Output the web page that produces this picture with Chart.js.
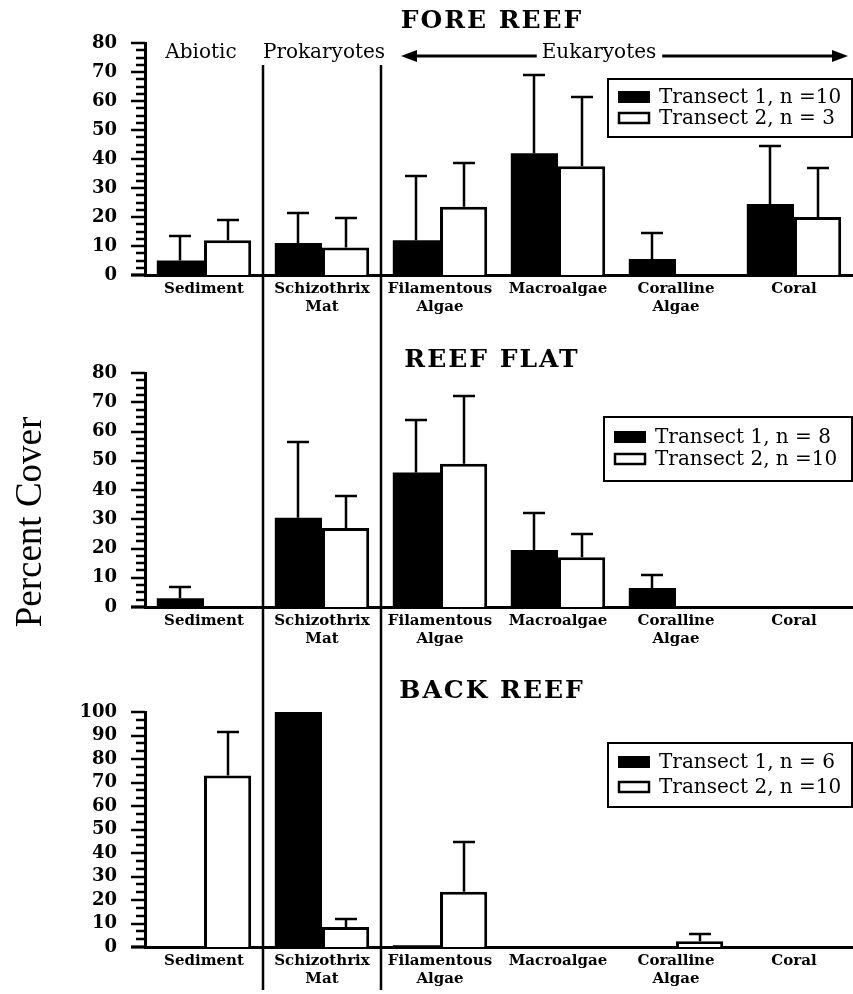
<!DOCTYPE html>
<html>
<head>
<meta charset="utf-8">
<script src="https://cdn.jsdelivr.net/npm/chart.js@4.4.1/dist/chart.umd.min.js"></script>
<style>
  body { margin: 0; background: #fff; width: 853px; height: 994px; overflow: hidden; position: relative; }
  canvas { position: absolute; left: 0; }
</style>
</head>
<body>
<canvas id="fore" width="853" height="330" style="top:0"></canvas>
<canvas id="flat" width="853" height="330" style="top:330px"></canvas>
<canvas id="back" width="853" height="334" style="top:660px"></canvas>
<script>
// categories along x
var categories = ['Sediment', ['Schizothrix', 'Mat'], ['Filamentous', 'Algae'], 'Macroalgae', ['Coralline', 'Algae'], 'Coral'];

// fore reef: means and error (sd) per transect
var foreT1 = [5, 11, 12, 42, 5.5, 24.5];
var foreT1Sd = [8.5, 10.5, 22, 27, 9, 20];
var foreT2 = [12, 9.5, 23.5, 37.5, 0, 20];
var foreT2Sd = [7, 10, 15, 24, 0, 17];

// reef flat
var flatT1 = [3, 30.5, 46, 19.5, 6.5, 0];
var flatT1Sd = [4, 26, 18, 12.5, 4.5, 0];
var flatT2 = [0, 27, 49, 17, 0, 0];
var flatT2Sd = [0, 11, 23, 8, 0, 0];

// back reef
var backT1 = [0, 100, 0.7, 0, 0, 0];
var backT1Sd = [0, 0, 0, 0, 0, 0];
var backT2 = [73, 8.5, 23.5, 0, 2.5, 0];
var backT2Sd = [18.5, 3.5, 21, 0, 3, 0];

var serif = 'DejaVu Serif';

var decor = {
  id: 'decor',
  afterDatasetsDraw: function(chart) {
    var ctx = chart.ctx, ys = chart.scales.y;
    ctx.save();
    ctx.strokeStyle = '#000';
    ctx.lineWidth = 2.5;
    chart.data.datasets.forEach(function(ds, i) {
      var meta = chart.getDatasetMeta(i);
      meta.data.forEach(function(bar, j) {
        var sd = ds.sd[j];
        if (!sd) return;
        var top = Math.round(ys.getPixelForValue(ds.data[j] + sd));
        var x = Math.round(bar.x);
        ctx.beginPath();
        ctx.moveTo(x, bar.y);
        ctx.lineTo(x, top);
        ctx.moveTo(x - 11, top);
        ctx.lineTo(x + 11, top);
        ctx.stroke();
      });
    });
    ctx.restore();
  },
  afterDraw: function(chart, args, o) {
    var ctx = chart.ctx, xs = chart.scales.x, ys = chart.scales.y, area = chart.chartArea;
    ctx.save();
    ctx.strokeStyle = '#000';
    ctx.fillStyle = '#000';

    // y ticks: long at every 10, short in between
    ctx.lineWidth = 2.5;
    var n = o.minor, steps = (ys.max - ys.min) / 10 * n;
    for (var i = 0; i <= steps; i++) {
      var y = Math.round(ys.getPixelForValue(ys.min + i * 10 / n));
      var len = i % n === 0 ? 14 : 9;
      ctx.beginPath();
      ctx.moveTo(area.left - len, y);
      ctx.lineTo(area.left, y);
      ctx.stroke();
    }

    // x axis runs a little past the y axis
    ctx.lineWidth = 3;
    ctx.beginPath();
    ctx.moveTo(area.left - 14, area.bottom);
    ctx.lineTo(area.left, area.bottom);
    ctx.stroke();

    // separators between abiotic / prokaryotes / eukaryotes
    var sep1 = Math.round((xs.getPixelForValue(0) + xs.getPixelForValue(1)) / 2);
    var sep2 = Math.round((xs.getPixelForValue(1) + xs.getPixelForValue(2)) / 2);
    ctx.lineWidth = 2.5;
    [sep1, sep2].forEach(function(sx) {
      ctx.beginPath();
      ctx.moveTo(sx, o.sepTop);
      ctx.lineTo(sx, o.sepBottom);
      ctx.stroke();
    });

    // panel title
    ctx.font = 'bold 25px ' + serif;
    ctx.letterSpacing = '2px';
    ctx.textAlign = 'center';
    ctx.textBaseline = 'middle';
    ctx.fillText(o.title, 492, o.titleY);
    ctx.letterSpacing = '0px';

    // group headers (top panel only)
    if (o.headers) {
      ctx.font = '20px ' + serif;
      var hy = 53;
      ctx.fillText('Abiotic', (area.left + sep1) / 2 - 3, hy);
      ctx.fillText('Prokaryotes', (sep1 + sep2) / 2 + 2, hy);
      var tx = 599, tw = ctx.measureText('Eukaryotes').width;
      ctx.fillText('Eukaryotes', tx, hy);
      var ly = hy + 3, l0 = sep2 + 20, l1 = 848;
      ctx.lineWidth = 3;
      ctx.beginPath();
      ctx.moveTo(l0 + 12, ly); ctx.lineTo(tx - tw / 2 - 5, ly);
      ctx.moveTo(tx + tw / 2 + 6, ly); ctx.lineTo(l1 - 12, ly);
      ctx.stroke();
      ctx.beginPath();
      ctx.moveTo(l0, ly); ctx.lineTo(l0 + 16, ly - 6); ctx.lineTo(l0 + 16, ly + 6); ctx.closePath();
      ctx.moveTo(l1, ly); ctx.lineTo(l1 - 16, ly - 6); ctx.lineTo(l1 - 16, ly + 6); ctx.closePath();
      ctx.fill();
    }

    // y axis title (middle panel only)
    if (o.yTitle) {
      ctx.save();
      ctx.translate(31, o.yTitle.y);
      ctx.rotate(-Math.PI / 2);
      ctx.font = '37px "Liberation Serif"';
      ctx.fillText(o.yTitle.text, 0, 0);
      ctx.restore();
    }

    // legend box
    var lb = o.legend;
    ctx.lineWidth = 2;
    ctx.strokeRect(lb.x, lb.y, lb.w, lb.h);
    ctx.font = '20px ' + serif;
    ctx.textAlign = 'left';
    chart.data.datasets.forEach(function(ds, i) {
      var ry = lb.rows[i];
      if (ds.backgroundColor === '#000') {
        ctx.fillRect(lb.x + 10, ry - 6, 32, 12);
      } else {
        ctx.lineWidth = 2.5;
        ctx.strokeRect(lb.x + 11, ry - 5, 30, 10);
      }
      ctx.fillText(ds.label, lb.x + 51, ry + 1);
    });
    ctx.restore();
  }
};

function makePanel(id, t1, t1Sd, t2, t2Sd, labels, yMax, minor, pad, deco) {
  var canvas = document.getElementById(id);
  return new Chart(canvas, {
    type: 'bar',
    data: {
      labels: categories,
      datasets: [
        { label: labels[0], data: t1, sd: t1Sd, backgroundColor: '#000', borderColor: '#000', borderWidth: 0 },
        { label: labels[1], data: t2, sd: t2Sd, backgroundColor: '#fff', borderColor: '#000', borderWidth: 3 }
      ]
    },
    options: {
      responsive: false,
      animation: false,
      events: [],
      layout: { padding: { top: pad.top, bottom: pad.bottom, left: 0, right: 0 } },
      datasets: { bar: { categoryPercentage: 0.8, barPercentage: 1.0 } },
      plugins: {
        legend: { display: false },
        tooltip: { enabled: false },
        decor: deco
      },
      scales: {
        x: {
          grid: { display: false, drawTicks: false },
          border: { display: true, color: '#000', width: 3 },
          ticks: {
            autoSkip: false, maxRotation: 0, padding: 5, color: '#000',
            font: { family: serif, size: 15, weight: 'bold', lineHeight: 1.2 }
          },
          afterFit: function(s) { s.height = 44; }
        },
        y: {
          min: 0, max: yMax,
          grid: { display: false, drawTicks: false },
          border: { display: true, color: '#000', width: 3 },
          ticks: {
            stepSize: 10, autoSkip: false, padding: 28, color: '#000',
            font: { family: serif, size: 18, weight: 'bold' }
          },
          afterFit: function(s) { s.width = 145; }
        }
      }
    },
    plugins: [decor]
  });
}

makePanel('fore', foreT1, foreT1Sd, foreT2, foreT2Sd,
  ['Transect 1, n =10', 'Transect 2, n = 3'], 80, 4,
  { top: 43, bottom: 11 },
  { title: 'FORE REEF', titleY: 21, headers: true, sepTop: 65, sepBottom: 330, minor: 4,
    legend: { x: 608, y: 79, w: 244, h: 58, rows: [97, 118] } });

makePanel('flat', flatT1, flatT1Sd, flatT2, flatT2Sd,
  ['Transect 1, n = 8', 'Transect 2, n =10'], 80, 4,
  { top: 43, bottom: 9 },
  { title: 'REEF FLAT', titleY: 30, sepTop: 0, sepBottom: 330, minor: 4,
    yTitle: { text: 'Percent Cover', y: 192 },
    legend: { x: 604, y: 87, w: 248, h: 64, rows: [107, 129] } });

makePanel('back', backT1, backT1Sd, backT2, backT2Sd,
  ['Transect 1, n = 6', 'Transect 2, n =10'], 100, 3,
  { top: 52, bottom: 3 },
  { title: 'BACK REEF', titleY: 31, sepTop: 0, sepBottom: 330, minor: 3,
    legend: { x: 608, y: 83, w: 244, h: 64, rows: [102, 127] } });
</script>
</body>
</html>
